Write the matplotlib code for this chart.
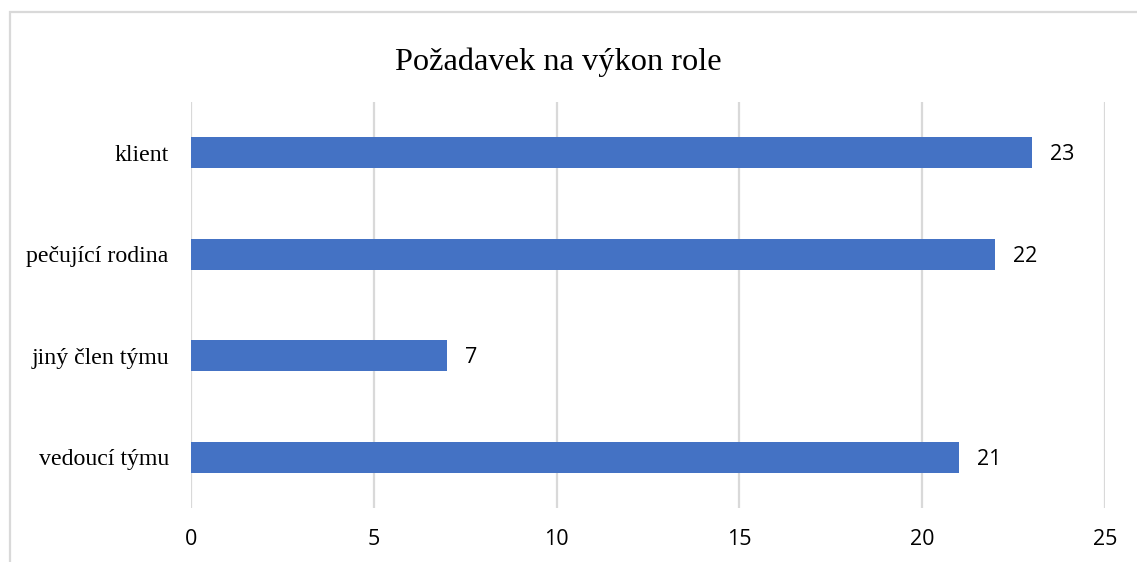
import matplotlib.pyplot as plt
from matplotlib.patches import Rectangle

# Data
kategorie = ['vedoucí týmu', 'jiný člen týmu', 'pečující rodina', 'klient']
hodnoty = [21, 7, 22, 23]
x_ticks = [0, 5, 10, 15, 20, 25]

barva = '#4472C4'
seda = '#D9D9D9'

fig = plt.figure(figsize=(11.37, 5.62), dpi=100)
ax = fig.add_axes([191 / 1137, 1 - 508 / 562, (1105 - 191) / 1137, (508 - 102) / 562])

# ramecek grafu (jen horni a leva hrana je videt)
fig.patches.append(Rectangle((10 / 1137, -0.1), 1.2, 1 - 11.5 / 562 + 0.1,
                             transform=fig.transFigure, fill=False,
                             edgecolor=seda, linewidth=1.6))

pozice = range(len(kategorie))
bars = ax.barh(pozice, hodnoty, height=0.31, color=barva, zorder=3)

for b, v in zip(bars, hodnoty):
    ax.annotate(str(v), (b.get_width(), b.get_y() + b.get_height() / 2),
                xytext=(13, -1.5), textcoords='offset points', va='center', ha='left',
                fontsize=15.5, family='Open Sans', color='#000000')

ax.set_xlim(0, 25)
ax.set_ylim(-0.5, 3.5)
ax.set_xticks(x_ticks)
ax.set_xticklabels([str(t) for t in x_ticks], family='Open Sans', fontsize=15.5)
ax.set_yticks(list(pozice))
ax.set_yticklabels(kategorie, family='Liberation Serif', fontsize=17.2)
ax.tick_params(axis='both', length=0)
ax.tick_params(axis='x', pad=15)
ax.tick_params(axis='y', pad=16)
ax.grid(axis='x', color=seda, linewidth=1.6, zorder=0)
for s in ax.spines.values():
    s.set_visible(False)

fig.text(558 / 1137, 1 - 62 / 562, 'Požadavek na výkon role', ha='center', va='center',
         family='Liberation Serif', fontsize=23.3)

fig.savefig('out.png', dpi=100)
